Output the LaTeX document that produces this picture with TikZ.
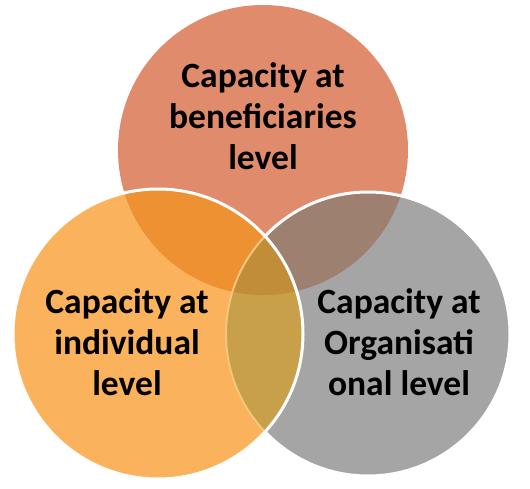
\documentclass[tikz,border=0pt]{standalone}
\usepackage{fontspec}
\setmainfont{Carlito}
\definecolor{ctop}{HTML}{E08C6C}
\definecolor{cleft}{HTML}{FBB25C}
\definecolor{cright}{HTML}{A5A5A5}
\definecolor{ctl}{HTML}{ED9133}
\definecolor{ctr}{HTML}{9E8070}
\definecolor{clr}{HTML}{C8A04A}
\definecolor{cmid}{HTML}{C28D38}
\definecolor{cedge}{HTML}{F6C678}
\tikzset{
  lbl/.style={font=\bfseries\fontsize{35.5}{41}\selectfont, align=center, inner sep=0pt, anchor=base, text=black},
  rim/.style={draw=white, line width=3pt}
}
\begin{document}
\begin{tikzpicture}[x=1pt,y=-1pt]
\useasboundingbox (0,0) rectangle (530,489);
\coordinate (T) at (263,150);
\coordinate (L) at (158,334);
\coordinate (R) at (368,334);
\def\rT{145}\def\rL{145}\def\rR{142}
% base fills
\fill[ctop] (T) circle[radius=\rT];
\fill[cright] (R) circle[radius=\rR];
\fill[cleft] (L) circle[radius=\rL];
% pairwise overlaps
\begin{scope}
  \clip (T) circle[radius=\rT];
  \fill[ctl] (L) circle[radius=\rL];
  \fill[ctr] (R) circle[radius=\rR];
\end{scope}
\begin{scope}
  \clip (L) circle[radius=\rL];
  \fill[clr] (R) circle[radius=\rR];
  \clip (T) circle[radius=\rT];
  \fill[cmid] (R) circle[radius=\rR];
\end{scope}
% outlines
\begin{scope}
  \clip (L) circle[radius=\rL];
  \draw[draw=cedge, line width=2pt] (R) circle[radius=\rR];
\end{scope}
\begin{scope}[even odd rule]
  \clip (0,0) rectangle (530,489) (L) circle[radius=\rL+1];
  \draw[rim] (R) circle[radius=\rR];
\end{scope}
\draw[rim] (L) circle[radius=\rL];
% labels
\node[lbl] (tt) at (263,170) {Capacity at\\beneficiaries\\level};
\node[lbl] (lt) at (127,395) {Capacity at\\individual\\level};
\node[lbl] (rt) at (399,395) {Capacity at\\Organisati\\onal level};
\end{tikzpicture}
\end{document}
